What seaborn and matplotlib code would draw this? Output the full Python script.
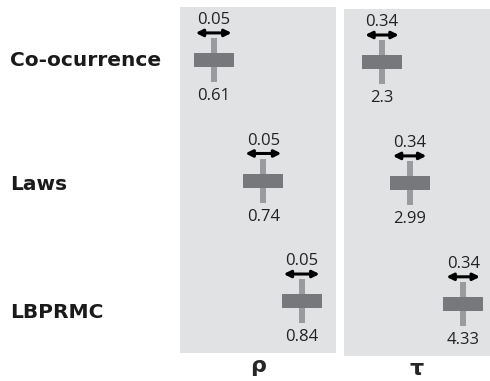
import numpy as np
import matplotlib
matplotlib.use('Agg')
import matplotlib.pyplot as plt
import seaborn as sns
import pandas as pd

# values
methods = ['Co-ocurrence', 'Laws', 'LBPRMC']
rho = [0.61, 0.74, 0.84]
tau = [2.3, 2.99, 4.33]
rho_ci = 0.05
tau_ci = 0.34

sns.set_style('white')
plt.rcParams['font.family'] = ['Open Sans', 'DejaVu Sans']

df = pd.DataFrame({'method': methods, 'row': range(len(methods)), 'rho': rho, 'tau': tau})

W, H = 490, 381
fig = plt.figure(figsize=(W / 100, H / 100), dpi=100)
ax1 = fig.add_axes([180 / W, (H - 353) / H, 156 / W, 346 / H])
ax2 = fig.add_axes([344 / W, (H - 356) / H, 146 / W, 347 / H])

bg = '#e1e2e4'
rect_col = '#77787b'
line_col = '#9a9b9e'

# marker shapes: wide box and thin vertical bar
box = [(-1, -0.37), (1, -0.37), (1, 0.37), (-1, 0.37), (-1, -0.37)]
bar = [(-0.12, -1), (0.12, -1), (0.12, 1), (-0.12, 1), (-0.12, -1)]

panels = [(ax1, 'rho', rho_ci, (0.522, 0.93), 'ρ'),
          (ax2, 'tau', tau_ci, (1.35, 5.0), 'τ')]

for ax, col, ci, xlim, name in panels:
    ax.set_facecolor(bg)
    sns.scatterplot(data=df, x=col, y='row', marker=bar, s=1000, color=line_col,
                    linewidth=0, ax=ax, zorder=2)
    sns.scatterplot(data=df, x=col, y='row', marker=box, s=830, color=rect_col,
                    linewidth=0, ax=ax, zorder=3)
    ax.set_xlim(*xlim)
    ax.set_ylim(2.43, -0.44)
    hw = 0.115 * (xlim[1] - xlim[0])
    for r, v in zip(df['row'], df[col]):
        ax.annotate('', xy=(v - hw, r - 0.225), xytext=(v + hw, r - 0.225),
                    arrowprops=dict(arrowstyle='<|-|>', color='black', lw=2.2,
                                    mutation_scale=10, shrinkA=0, shrinkB=0))
        ax.text(v, r - 0.33, f'{ci:g}', ha='center', va='center', fontsize=12, color='#222222')
        ax.text(v, r + 0.30, f'{v:g}', ha='center', va='center', fontsize=12, color='#222222')
    ax.set_xticks([])
    ax.set_yticks([])
    ax.set_xlabel(name, fontsize=16, fontweight='bold', labelpad=2.5, family='DejaVu Sans')
    ax.set_ylabel('')
    for s in ax.spines.values():
        s.set_visible(False)

label_dy = [0.0, 0.03, 0.09]
for r, m in enumerate(methods):
    ax1.text(-170 / 156, r + label_dy[r], m, transform=ax1.get_yaxis_transform(),
             ha='left', va='center', fontsize=14.5, fontweight='bold',
             family='DejaVu Sans', color='#1a1a1a')

fig.savefig('out.png', dpi=100)
